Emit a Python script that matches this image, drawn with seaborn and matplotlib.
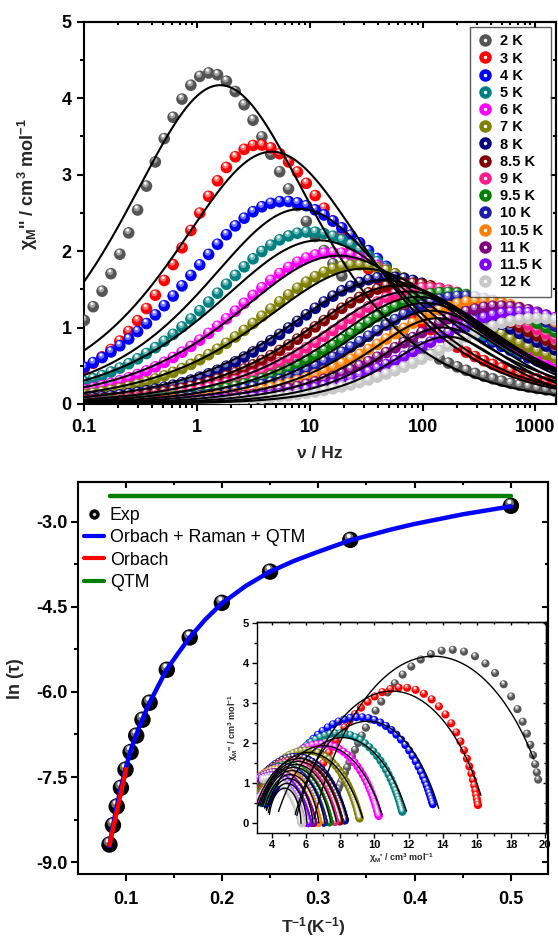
import numpy as np
import seaborn as sns
import matplotlib.pyplot as plt
from matplotlib.lines import Line2D
from matplotlib.legend_handler import HandlerTuple
from matplotlib.transforms import offset_copy
from matplotlib.ticker import MultipleLocator, LogLocator, NullFormatter, FuncFormatter
from matplotlib.colors import to_rgb

# ---- data ----
temps = [2, 3, 4, 5, 6, 7, 8, 8.5, 9, 9.5, 10, 10.5, 11, 11.5, 12]
labels = ['2 K', '3 K', '4 K', '5 K', '6 K', '7 K', '8 K', '8.5 K', '9 K',
          '9.5 K', '10 K', '10.5 K', '11 K', '11.5 K', '12 K']
colors = ['#555555', '#ff0000', '#0000ff', '#008080', '#ff00ff', '#808000',
          '#000080', '#800000', '#ff1a8c', '#008000', '#1c1ca8', '#ff8000',
          '#800080', '#8000ff', '#c8c8c8']

# measured chi'' curves: peak position / height, chi_T (low freq chi'), shape a, b
exp_peak_hz = [1.3, 3.5, 6.0, 10, 16, 26, 50, 75, 110, 160, 230, 330, 480, 700, 1000]
exp_peak_chi = [4.33, 3.39, 2.65, 2.25, 1.98, 1.82, 1.66, 1.58, 1.52, 1.46, 1.41, 1.35, 1.28, 1.20, 1.12]
exp_chi_t = [19.9, 16.2, 13.7, 11.8, 10.35, 9.2, 8.3, 8.0, 7.7, 7.38, 7.05, 6.72, 6.42, 6.12, 5.75]
exp_a = [0.9, 0.85, 0.7, 0.7, 0.7, 0.7, 0.7, 0.7, 0.7, 0.7, 0.7, 0.7, 0.7, 0.7, 0.7]
exp_b = [0.6, 0.6, 0.6, 0.6, 0.6, 0.6, 0.6, 0.6, 0.6, 0.6, 0.6, 0.6, 0.6, 0.6, 0.6]

# generalised Debye fits (black lines)
fit_peak_hz = [1.6, 4.6, 8.2, 12, 18, 30, 45, 60, 75, 90, 105, 120, 135, 150, 165]
fit_peak_chi = [4.17, 3.30, 2.55, 2.14, 1.94, 1.77, 1.62, 1.55, 1.47, 1.40, 1.32, 1.22, 1.12, 1.00, 0.88]
fit_alpha = [0.32, 0.33, 0.33, 0.37, 0.37, 0.37, 0.35, 0.32, 0.30, 0.27, 0.24, 0.20, 0.15, 0.10, 0.05]
fit_chi_t = [20.5, 16.7, 14.0, 12.1, 10.6, 9.4, 8.5, 8.15, 7.8, 7.45, 7.1, 6.75, 6.4, 6.05, 5.7]

# Arrhenius panel
ln_tau = [-2.72, -3.32, -3.88, -4.43, -5.04, -5.61, -6.19, -6.49, -6.77, -7.06,
          -7.37, -7.69, -8.02, -8.35, -8.69]
total_x = [0.0833, 0.087, 0.0909, 0.0952, 0.1, 0.105, 0.111, 0.1176, 0.125, 0.1429,
           0.155, 0.1667, 0.183, 0.2, 0.225, 0.25, 0.275, 0.3, 0.333, 0.375, 0.4, 0.45, 0.5]
total_y = [-8.72, -8.36, -8.02, -7.69, -7.36, -7.05, -6.76, -6.48, -6.19, -5.60,
           -5.31, -5.04, -4.72, -4.44, -4.13, -3.88, -3.69, -3.53, -3.33, -3.14, -3.04, -2.87, -2.73]
orbach_x = [0.0833, 0.1007]
orbach_y = [-8.70, -7.36]
qtm_x = [0.084, 0.5]
qtm_y = [-2.55, -2.55]

freq = np.geomspace(0.1, 1488, 54)
fit_freq = np.geomspace(0.1, 1520, 300)


def hn(f, peak_hz, peak_chi, chi_t, a, b):
    # Havriliak-Negami curve placed so that chi'' peaks at (peak_hz, peak_chi)
    wt = (np.sin(a * np.pi / (2 * (b + 1))) / np.sin(a * b * np.pi / (2 * (b + 1)))) ** (1 / a)
    tau = wt / (2 * np.pi * peak_hz)
    dchi = peak_chi / (-(1 / (1 + (1j * wt) ** a) ** b).imag)
    chi = chi_t - dchi + dchi / (1 + (1j * 2 * np.pi * f * tau) ** a) ** b
    return chi.real, -chi.imag


def lighter(c, k):
    r = np.array(to_rgb(c))
    return tuple(r + (1 - r) * k)


def spheres(ax, x, y, color, size, z=3):
    d = np.sqrt(size)
    sns.scatterplot(x=x, y=y, color=color, s=size, edgecolor='none', linewidth=0,
                    ax=ax, zorder=z, legend=False)
    t1 = offset_copy(ax.transData, fig=ax.figure, x=-0.08 * d, y=0.16 * d, units='points')
    sns.scatterplot(x=x, y=y, color=lighter(color, 0.45), s=size * 0.28, edgecolor='none',
                    linewidth=0, ax=ax, zorder=z, legend=False, transform=t1)
    t2 = offset_copy(ax.transData, fig=ax.figure, x=-0.1 * d, y=0.24 * d, units='points')
    sns.scatterplot(x=x, y=y, color='white', s=size * 0.06, edgecolor='none',
                    linewidth=0, ax=ax, zorder=z, legend=False, transform=t2)


def style(ax, lw=1.5, maj=5, mnr=2.6, size=13, pad=4):
    for s in ax.spines.values():
        s.set_linewidth(lw)
        s.set_color('black')
        s.set_visible(True)
    ax.tick_params(which='both', direction='out', width=lw, colors='black',
                   labelsize=size, pad=pad)
    ax.tick_params(which='major', length=maj)
    ax.tick_params(which='minor', length=mnr)
    for lab in ax.get_xticklabels() + ax.get_yticklabels():
        lab.set_fontweight('bold')


def mirror(ax, lw, maj, mnr, xloc, xmin, yloc, ymin):
    top = ax.secondary_xaxis('top')
    right = ax.secondary_yaxis('right')
    top.xaxis.set_major_locator(xloc)
    top.xaxis.set_minor_locator(xmin)
    right.yaxis.set_major_locator(yloc)
    right.yaxis.set_minor_locator(ymin)
    for sec in (top, right):
        sec.tick_params(which='both', direction='in', width=lw, colors='black',
                        labeltop=False, labelright=False)
        sec.tick_params(which='major', length=maj)
        sec.tick_params(which='minor', length=mnr)
        for s in sec.spines.values():
            s.set_linewidth(lw)


sns.set_style('ticks')
plt.rcParams['font.family'] = ['Liberation Sans', 'DejaVu Sans']
plt.rcParams['axes.unicode_minus'] = False
plt.rcParams['mathtext.fontset'] = 'custom'
plt.rcParams['mathtext.rm'] = 'Liberation Sans:bold'
plt.rcParams['mathtext.it'] = 'Liberation Sans:bold'
plt.rcParams['mathtext.bf'] = 'Liberation Sans:bold'
plt.rcParams['text.color'] = 'black'

fig = plt.figure(figsize=(5.58, 9.39), dpi=100)

# ---------------- top: chi'' vs frequency ----------------
ax1 = fig.add_axes([0.1511, 0.5698, 0.8453, 0.4071])
ax1.set_xscale('log')
for i in range(len(temps)):
    _, chi2 = hn(freq, exp_peak_hz[i], exp_peak_chi[i], exp_chi_t[i], exp_a[i], exp_b[i])
    spheres(ax1, freq, chi2, colors[i], 70)
for i in range(len(temps)):
    _, fit2 = hn(fit_freq, fit_peak_hz[i], fit_peak_chi[i], fit_chi_t[i], 1 - fit_alpha[i], 1.0)
    sns.lineplot(x=fit_freq, y=fit2, color='black', lw=1.5, ax=ax1, sort=False,
                 estimator=None, zorder=6)
ax1.set_xlim(0.1, 1520)
ax1.set_ylim(0, 5)
ax1.xaxis.set_major_locator(LogLocator(base=10))
ax1.xaxis.set_minor_locator(LogLocator(base=10, subs=np.arange(2, 10)))
ax1.xaxis.set_minor_formatter(NullFormatter())
ax1.xaxis.set_major_formatter(FuncFormatter(lambda v, p: f'{v:g}'))
ax1.yaxis.set_major_locator(MultipleLocator(1))
ax1.yaxis.set_minor_locator(MultipleLocator(0.5))
style(ax1, pad=4)
ax1.tick_params(axis='x', pad=6)
mirror(ax1, 1.5, 4, 2, LogLocator(base=10), LogLocator(base=10, subs=np.arange(2, 10)),
       MultipleLocator(1), MultipleLocator(0.5))
ax1.set_xlabel('ν / Hz', fontsize=12.5, fontweight='bold', labelpad=7)
ax1.set_ylabel(r"$\chi_{M}$'' / cm$^{3}$ mol$^{-1}$", fontsize=13, fontweight='bold')
ax1.yaxis.set_label_coords(-0.095, 0.575)

handles = [(Line2D([], [], marker='o', ls='', color=c, ms=9, mec='none'),
            Line2D([], [], marker='o', ls='', color='white', ms=2.5, mec='none'))
           for c in colors]
leg = ax1.legend(handles, labels, handler_map={tuple: HandlerTuple(ndivide=1, pad=0)},
                 loc='upper right', bbox_to_anchor=(0.989, 0.986), borderaxespad=0,
                 prop={'weight': 'bold', 'size': 10.5}, labelspacing=0.22,
                 handlelength=1.0, handletextpad=0.55, borderpad=0.5,
                 frameon=True, fancybox=False, edgecolor='#333333')
leg.get_frame().set_linewidth(1.0)

# ---------------- bottom: Arrhenius ----------------
ax2 = fig.add_axes([0.1403, 0.0692, 0.8418, 0.4172])
inv_t = 1 / np.array(temps)
sns.lineplot(x=total_x, y=total_y, color='#0000ff', lw=3.2, ax=ax2, sort=False,
             estimator=None, zorder=6)
sns.lineplot(x=orbach_x, y=orbach_y, color='#ff0000', lw=3.2, ax=ax2, sort=False,
             estimator=None, zorder=7)
sns.lineplot(x=qtm_x, y=qtm_y, color='#008000', lw=3.2, ax=ax2, sort=False,
             estimator=None, zorder=6)
spheres(ax2, inv_t, ln_tau, '#000000', 140)
ax2.set_xlim(0.051, 0.5385)
ax2.set_ylim(-9.21, -2.305)
ax2.xaxis.set_major_locator(MultipleLocator(0.1))
ax2.xaxis.set_minor_locator(MultipleLocator(0.05))
ax2.xaxis.set_major_formatter(FuncFormatter(lambda v, p: f'{v:.1f}'))
ax2.yaxis.set_major_locator(MultipleLocator(1.5))
ax2.yaxis.set_minor_locator(MultipleLocator(0.75))
ax2.yaxis.set_major_formatter(FuncFormatter(lambda v, p: f'{v:.1f}'))
style(ax2, pad=3)
ax2.tick_params(axis='x', pad=7)
mirror(ax2, 1.5, 4, 2, MultipleLocator(0.1), MultipleLocator(0.05),
       MultipleLocator(1.5), MultipleLocator(0.75))
ax2.set_xlabel(r'T$^{-1}$(K$^{-1}$)', fontsize=12.5, fontweight='bold', labelpad=5)
ax2.set_ylabel('ln (τ)', fontsize=13, fontweight='bold')
ax2.yaxis.set_label_coords(-0.115, 0.5)

leg_handles = [(Line2D([], [], marker='o', ls='', color='black', ms=7.5, mec='none'),
                Line2D([], [], marker='o', ls='', color='#cccccc', ms=2.5, mec='none')),
               Line2D([], [], color='#0000ff', lw=3),
               Line2D([], [], color='#ff0000', lw=3),
               Line2D([], [], color='#008000', lw=3)]
ax2.legend(leg_handles, ['Exp', 'Orbach + Raman + QTM', 'Orbach', 'QTM'],
           handler_map={tuple: HandlerTuple(ndivide=1, pad=0)},
           loc='upper left', bbox_to_anchor=(-0.003, 0.955), borderaxespad=0,
           frameon=False, fontsize=12.8, handlelength=1.15, handletextpad=0.3,
           labelspacing=0.3, borderpad=0.4)

# ---------------- inset: Cole-Cole ----------------
ax3 = fig.add_axes([0.460, 0.1132, 0.5185, 0.2247])
ax3.set_facecolor('white')
for i in range(len(temps)):
    chi1, chi2 = hn(freq, exp_peak_hz[i], exp_peak_chi[i], exp_chi_t[i], exp_a[i], exp_b[i])
    spheres(ax3, chi1, chi2, colors[i], 34)
for i in range(len(temps)):
    f1, f2 = hn(fit_freq, fit_peak_hz[i], fit_peak_chi[i], fit_chi_t[i], 1 - fit_alpha[i], 1.0)
    sns.lineplot(x=f1, y=f2, color='black', lw=1.0, ax=ax3, sort=False,
                 estimator=None, zorder=6)
ax3.set_xlim(3.1, 20.05)
ax3.set_ylim(-0.23, 5.03)
ax3.xaxis.set_major_locator(MultipleLocator(2))
ax3.xaxis.set_minor_locator(MultipleLocator(1))
ax3.yaxis.set_major_locator(MultipleLocator(1))
ax3.yaxis.set_minor_locator(MultipleLocator(0.5))
style(ax3, lw=1.0, maj=3.5, mnr=2, size=8, pad=2)
mirror(ax3, 1.0, 2.5, 1.5, MultipleLocator(2), MultipleLocator(1),
       MultipleLocator(1), MultipleLocator(0.5))
ax3.set_xlabel(r"$\chi_{M}$' / cm$^{3}$ mol$^{-1}$", fontsize=6.5, fontweight='bold', labelpad=1)
ax3.set_ylabel(r"$\chi_{M}$'' / cm$^{3}$ mol$^{-1}$", fontsize=6.5, fontweight='bold', labelpad=2)

fig.savefig('out.png', dpi=100)
